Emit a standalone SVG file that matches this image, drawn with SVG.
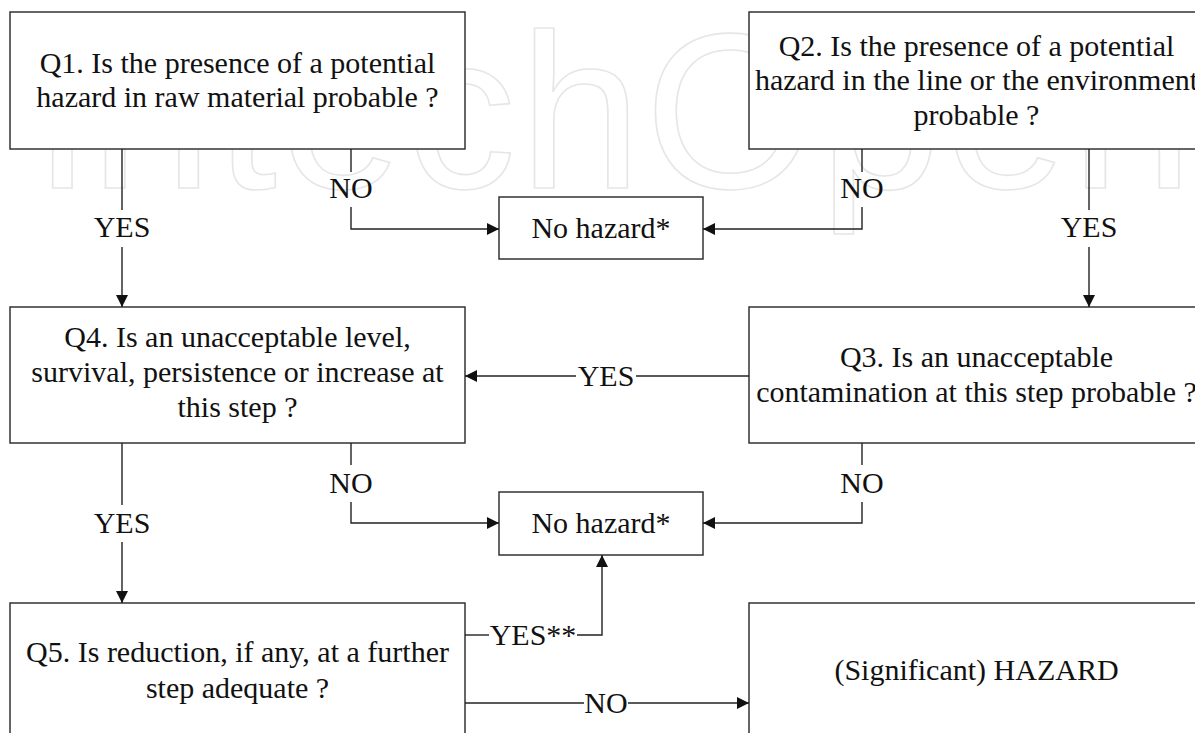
<svg xmlns="http://www.w3.org/2000/svg" width="1195" height="733" viewBox="0 0 1195 733">
<defs>
<style>
.box{fill:#fff;stroke:#333;stroke-width:1.5}
.t{font-family:'Liberation Serif','DejaVu Serif',serif;font-size:30px;fill:#111;text-anchor:middle}
.c{fill:none;stroke:#222;stroke-width:1.4}
.wm{font-family:'Liberation Sans',sans-serif;font-size:220px;fill:none;stroke:#e6e6e6;stroke-width:1.6}
</style>
<marker id="ah" markerUnits="userSpaceOnUse" markerWidth="12" markerHeight="12" refX="12" refY="6" orient="auto">
<path d="M0,0 L12,6 L0,12 z" fill="#111"/>
</marker>
</defs>
<rect width="1195" height="733" fill="#fff"/>
<g id="watermark">
<text class="wm" x="38" y="188" textLength="1155" lengthAdjust="spacing">intechOpen</text>
</g>
<g id="q1" font-family="Liberation Serif, serif">
<rect class="box" x="10" y="12" width="455" height="137"/>
<text class="t" x="237.5" y="73">Q1. Is the presence of a potential</text>
<text class="t" x="237.5" y="107">hazard in raw material probable ?</text>
</g>
<g id="q2">
<rect class="box" x="749" y="12" width="455" height="137"/>
<text class="t" x="976.5" y="56">Q2. Is the presence of a potential</text>
<text class="t" x="976.5" y="90">hazard in the line or the environment</text>
<text class="t" x="976.5" y="125">probable ?</text>
</g>
<g id="nohazard1">
<rect class="box" x="499" y="197" width="204" height="62"/>
<text class="t" x="601" y="238">No hazard*</text>
</g>
<g id="q4">
<rect class="box" x="10" y="307" width="455" height="136"/>
<text class="t" x="237.5" y="347">Q4. Is an unacceptable level,</text>
<text class="t" x="237.5" y="382">survival, persistence or increase at</text>
<text class="t" x="237.5" y="417">this step ?</text>
</g>
<g id="q3">
<rect class="box" x="749" y="307" width="455" height="136"/>
<text class="t" x="976.5" y="367">Q3. Is an unacceptable</text>
<text class="t" x="976.5" y="402">contamination at this step probable ?</text>
</g>
<g id="nohazard2">
<rect class="box" x="499" y="492" width="204" height="63"/>
<text class="t" x="601" y="533">No hazard*</text>
</g>
<g id="q5">
<rect class="box" x="10" y="603" width="455" height="140"/>
<text class="t" x="237.5" y="662">Q5. Is reduction, if any, at a further</text>
<text class="t" x="237.5" y="698">step adequate ?</text>
</g>
<g id="hazard">
<rect class="box" x="749" y="603" width="455" height="140"/>
<text class="t" x="976.5" y="680">(Significant) HAZARD</text>
</g>
<g id="connectors">
<path class="c" d="M351,149 V172"/>
<path class="c" d="M351,207 V229 H499" marker-end="url(#ah)"/>
<text class="t" x="351" y="198">NO</text>
<path class="c" d="M122,149 V210"/>
<path class="c" d="M122,247 V307" marker-end="url(#ah)"/>
<text class="t" x="122" y="237">YES</text>
<path class="c" d="M862,149 V172"/>
<path class="c" d="M862,207 V229 H703" marker-end="url(#ah)"/>
<text class="t" x="862" y="198">NO</text>
<path class="c" d="M1089,149 V210"/>
<path class="c" d="M1089,247 V307" marker-end="url(#ah)"/>
<text class="t" x="1089" y="237">YES</text>
<path class="c" d="M749,376 H636"/>
<path class="c" d="M576,376 H465" marker-end="url(#ah)"/>
<text class="t" x="606" y="386">YES</text>
<path class="c" d="M351,443 V465"/>
<path class="c" d="M351,502 V523 H499" marker-end="url(#ah)"/>
<text class="t" x="351" y="493">NO</text>
<path class="c" d="M862,443 V465"/>
<path class="c" d="M862,502 V523 H703" marker-end="url(#ah)"/>
<text class="t" x="862" y="493">NO</text>
<path class="c" d="M122,443 V505"/>
<path class="c" d="M122,542 V603" marker-end="url(#ah)"/>
<text class="t" x="122" y="533">YES</text>
<path class="c" d="M465,635 H489"/>
<path class="c" d="M577,635 H602 V555" marker-end="url(#ah)"/>
<text class="t" x="533" y="645">YES**</text>
<path class="c" d="M465,703 H584"/>
<path class="c" d="M628,703 H749" marker-end="url(#ah)"/>
<text class="t" x="606" y="713">NO</text>
</g>
</svg>
